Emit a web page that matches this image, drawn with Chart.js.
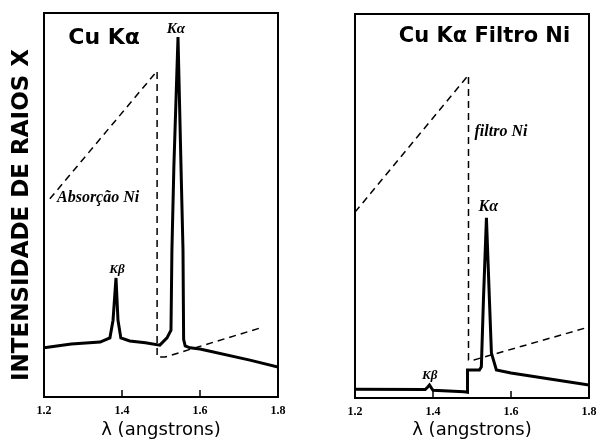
<!DOCTYPE html>
<html>
<head>
<meta charset="utf-8">
<script src="https://cdn.jsdelivr.net/npm/chart.js@4.4.0/dist/chart.umd.min.js"></script>
<style>
html, body { margin: 0; padding: 0; background: #fff; }
#wrap { position: relative; width: 597px; height: 441px; overflow: hidden; background: #fff; }
#c1 { position: absolute; left: 0; top: 0; }
#c2 { position: absolute; left: 300px; top: 0; }
</style>
</head>
<body>
<div id="wrap">
  <canvas id="c1" width="300" height="441"></canvas>
  <canvas id="c2" width="297" height="441"></canvas>
</div>
<script>
// wavelength ticks (angstrom)
const xTicks = [1.2, 1.4, 1.6, 1.8];

// Cu K alpha, no filter
const cuLambda    = [1.2, 1.27, 1.344, 1.369, 1.377, 1.3846, 1.3897, 1.397, 1.42, 1.46, 1.497, 1.5154, 1.5256, 1.528, 1.533, 1.5436, 1.5513, 1.5564, 1.558, 1.562, 1.5744, 1.6, 1.728, 1.8];
const cuIntensity = [12.8, 13.8, 14.3, 15.4, 20, 31, 20, 15.4, 14.6, 14.1, 13.5, 15.4, 17.4, 38.3, 60, 93.75, 60, 38.3, 15, 13.3, 12.8, 12.5, 9.6, 7.8];

// Ni absorption curve (dashed), left panel
const niAbsLambda = [1.215, 1.49, 1.49, 1.51, 1.7615];
const niAbsValue  = [51.6, 84.9, 10.4, 10.4, 18.2];

// Cu K alpha through Ni filter
const filLambda    = [1.2, 1.38, 1.386, 1.391, 1.396, 1.4, 1.48, 1.4885, 1.4885, 1.519, 1.524, 1.5293, 1.537, 1.5447, 1.5498, 1.5625, 1.6, 1.8];
const filIntensity = [2.3, 2.2, 2.8, 3.4, 2.6, 2.0, 1.6, 1.5, 7.3, 7.3, 8.1, 25.5, 46.9, 25.5, 11.7, 7.3, 6.5, 3.4];

// Ni filter curve (dashed), right panel
const niFilLambda = [1.2, 1.491, 1.491, 1.505, 1.8];
const niFilValue  = [48.4, 84.1, 9.9, 9.9, 18.5];

const toPoints = (xs, ys) => xs.map((v, i) => ({ x: v, y: ys[i] }));

const boldSans = 'bold 22px "DejaVu Sans"';
const italSerif = 'italic bold 16px "Liberation Serif"';

// box, small inner ticks and the text labels
const framePlugin = {
  id: 'frame',
  afterDraw(chart, args, opts) {
    const { ctx, chartArea: a, scales: { x, y } } = chart;
    ctx.save();
    ctx.strokeStyle = '#000';
    ctx.lineWidth = 2;
    ctx.strokeRect(a.left, a.top, a.right - a.left, a.bottom - a.top);
    ctx.lineWidth = 1.5;
    xTicks.slice(1, -1).forEach(v => {
      const px = x.getPixelForValue(v);
      ctx.beginPath();
      ctx.moveTo(px, a.bottom);
      ctx.lineTo(px, a.bottom - 7);
      ctx.stroke();
    });
    ctx.fillStyle = '#000';
    ctx.textBaseline = 'middle';
    (opts.notes || []).forEach(n => {
      ctx.font = n.font;
      ctx.textAlign = n.align || 'center';
      ctx.fillText(n.text, x.getPixelForValue(n.x), y.getPixelForValue(n.y));
    });
    if (opts.yLabel) {
      ctx.save();
      ctx.translate(a.left - 22, 215);
      ctx.rotate(-Math.PI / 2);
      ctx.font = 'bold 23px "DejaVu Sans"';
      ctx.textAlign = 'center';
      ctx.fillText(opts.yLabel, 0, 0);
      ctx.restore();
    }
    ctx.restore();
  }
};

function makeChart(id, spectrum, dashed, pad, notes, yLabel) {
  return new Chart(document.getElementById(id), {
    type: 'line',
    data: {
      datasets: [
        { data: spectrum, borderColor: '#000', borderWidth: 3, pointRadius: 0, tension: 0, order: 1 },
        { data: dashed, borderColor: '#000', borderWidth: 1.5, borderDash: [7, 5], pointRadius: 0, tension: 0, order: 2 }
      ]
    },
    options: {
      responsive: false,
      animation: false,
      devicePixelRatio: 1,
      layout: { padding: pad },
      plugins: {
        legend: { display: false },
        tooltip: { enabled: false },
        frame: { notes: notes, yLabel: yLabel }
      },
      scales: {
        x: {
          type: 'linear',
          min: 1.2,
          max: 1.8,
          afterBuildTicks: s => { s.ticks = xTicks.map(v => ({ value: v })); },
          afterFit: s => {
            s.height = 441 - 397 - (pad.top - 13);
            s.paddingLeft = 0;
            s.paddingRight = 0;
          },
          grid: { display: false, drawTicks: false },
          border: { display: false },
          ticks: {
            color: '#000',
            padding: 7,
            font: { family: '"Liberation Serif"', size: 12, weight: 'bold' },
            callback: v => v.toFixed(1)
          },
          title: {
            display: true,
            text: 'λ (angstrons)',
            color: '#000',
            padding: { top: 0, bottom: 0 },
            font: { family: '"DejaVu Sans"', size: 18 }
          }
        },
        y: { display: false, min: 0, max: 100 }
      }
    },
    plugins: [framePlugin]
  });
}

makeChart('c1',
  toPoints(cuLambda, cuIntensity),
  toPoints(niAbsLambda, niAbsValue),
  { left: 44, right: 22, top: 13, bottom: 0 },
  [
    { text: 'Cu Kα', x: 1.354, y: 93.5, font: boldSans },
    { text: 'Kα', x: 1.5385, y: 95.8, font: 'italic bold 15px "Liberation Serif"' },
    { text: 'Absorção Ni', x: 1.2333, y: 51.8, font: italSerif, align: 'left' },
    { text: 'Kβ', x: 1.387, y: 33.1, font: 'italic bold 13px "Liberation Serif"' }
  ],
  'INTENSIDADE DE RAIOS X'
);

makeChart('c2',
  toPoints(filLambda, filIntensity),
  toPoints(niFilLambda, niFilValue),
  { left: 55, right: 8, top: 14, bottom: 0 },
  [
    { text: 'Cu Kα Filtro Ni', x: 1.532, y: 94, font: 'bold 21px "DejaVu Sans"' },
    { text: 'filtro Ni', x: 1.5064, y: 69.3, font: italSerif, align: 'left' },
    { text: 'Kα', x: 1.542, y: 49.7, font: italSerif },
    { text: 'Kβ', x: 1.3915, y: 5.7, font: 'italic bold 13px "Liberation Serif"' }
  ],
  null
);
</script>
</body>
</html>
